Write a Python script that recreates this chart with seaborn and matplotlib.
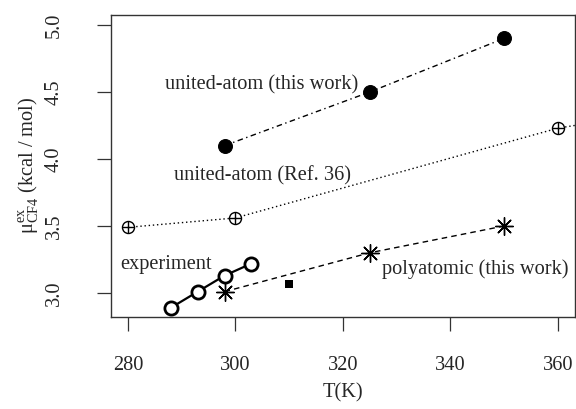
import matplotlib
matplotlib.use("Agg")
import matplotlib.pyplot as plt
import seaborn as sns
import numpy as np

# ---- data ----
T_ua_this = [298, 325, 350]
mu_ua_this = [4.10, 4.50, 4.90]

T_ua_ref = [280, 300, 360, 380]
mu_ua_ref = [3.49, 3.56, 4.23, 4.36]

T_poly = [298, 325, 350]
mu_poly = [3.01, 3.30, 3.50]

T_exp = [288, 293, 298, 303]
mu_exp = [2.89, 3.01, 3.13, 3.22]

T_extra = [310]
mu_extra = [3.07]

x_ticks = [280, 300, 320, 340, 360]
y_ticks = [3.0, 3.5, 4.0, 4.5, 5.0]

sns.set_theme(style="white")
plt.rcParams['font.family'] = ['Liberation Serif', 'DejaVu Serif']
plt.rcParams['mathtext.fontset'] = 'custom'
plt.rcParams['mathtext.rm'] = 'Liberation Serif'
plt.rcParams['mathtext.it'] = 'Liberation Serif:italic'

FS = 14.7

fig = plt.figure(figsize=(5.76, 4.09), dpi=100)
ax = fig.add_axes([110.7/576, 1-316.7/409, (575-110.7)/576, (316.7-14.7)/409])

# united-atom (this work): dot-dash
sns.lineplot(x=T_ua_this, y=mu_ua_this, ax=ax, color='black', lw=1.0,
             dashes=False, linestyle=(0, (4, 2.5, 1, 2.5)), marker='o', markersize=10,
             markerfacecolor='black', markeredgecolor='black', sort=False, estimator=None)

# united-atom (Ref. 36): dotted with circle-plus
sns.lineplot(x=T_ua_ref, y=mu_ua_ref, ax=ax, color='black', lw=1.0,
             linestyle=(0, (1, 2)), sort=False, estimator=None)
sns.scatterplot(x=T_ua_ref, y=mu_ua_ref, ax=ax, marker='o', s=75,
                facecolor='white', edgecolor='black', linewidth=1.0, zorder=3)
sns.scatterplot(x=T_ua_ref, y=mu_ua_ref, ax=ax, marker='+', s=75,
                color='black', linewidth=1.0, zorder=4)

# polyatomic (this work): dashed with asterisk
sns.lineplot(x=T_poly, y=mu_poly, ax=ax, color='black', lw=1.0,
             linestyle=(0, (4, 3)), sort=False, estimator=None)
sns.scatterplot(x=T_poly, y=mu_poly, ax=ax, marker=(8, 2, 0), s=160,
                color='black', linewidth=1.0, zorder=4)

# experiment: solid, open circles
sns.lineplot(x=T_exp, y=mu_exp, ax=ax, color='black', lw=1.6, sort=False, estimator=None,
             marker='o', markersize=9.5, markerfacecolor='white',
             markeredgecolor='black', markeredgewidth=2.0)

# extra square
sns.scatterplot(x=T_extra, y=mu_extra, ax=ax, marker='s', s=30,
                color='black', linewidth=0, zorder=4)

ax.set_xlim(276.8, 363.2)
ax.set_ylim(2.823, 5.077)
ax.set_xticks(x_ticks)
ax.set_yticks(y_ticks)
ax.set_xticklabels([str(v) for v in x_ticks], fontsize=FS)
ax.set_yticklabels([f"{v:.1f}" for v in y_ticks], fontsize=FS, rotation=90, va='center')
ax.tick_params(axis='both', direction='out', length=10, width=0.9, color='#333333',
               bottom=True, left=True)
ax.tick_params(axis='x', pad=18)
ax.tick_params(axis='y', pad=24)
for s in ax.spines.values():
    s.set_color('#333333')
    s.set_linewidth(1.0)

ax.set_xlabel('T(K)', fontsize=FS, labelpad=6)
ax.set_ylabel('μ$^{\\mathrm{ex}}_{\\mathrm{CF4}}$ (kcal / mol)', fontsize=FS, labelpad=3)

ax.text(322.8, 4.552, 'united-atom (this work)', fontsize=FS, ha='right', va='center')
ax.text(305.1, 3.873, 'united-atom (Ref. 36)', fontsize=FS, ha='center', va='center')
ax.text(287.1, 3.209, 'experiment', fontsize=FS, ha='center', va='center')
ax.text(344.7, 3.179, 'polyatomic (this work)', fontsize=FS, ha='center', va='center')

fig.savefig('out.png', dpi=100)
